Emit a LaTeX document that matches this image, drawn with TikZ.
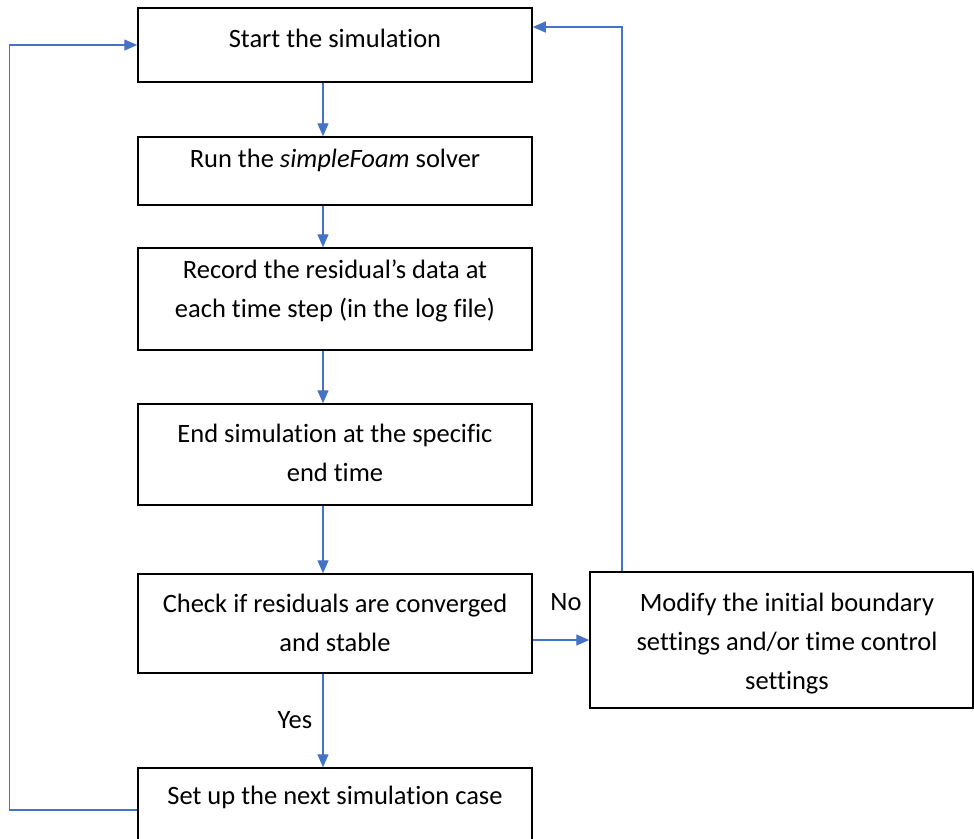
\documentclass[tikz,border=0pt]{standalone}
\usepackage{fontspec}
\setmainfont{Carlito}[RawFeature=-liga]
\usetikzlibrary{arrows.meta}
\definecolor{arrowblue}{HTML}{4472C4}
\begin{document}
\begin{tikzpicture}[x=1pt,y=-1pt,
  box/.style={draw=black, line width=1.5pt, rectangle, inner sep=0pt},
  txt/.style={align=center, font=\fontsize{26.5}{39}\selectfont, inner sep=0pt},
  flow/.style={draw=arrowblue, line width=1.4pt, -{Triangle[length=13pt,width=11pt]}}]
\useasboundingbox (0,0) rectangle (974,838);
\fill[white] (0,0) rectangle (974,838);
% boxes
\node[box, minimum width=394pt, minimum height=74pt]  (b1) at (335,45) {};
\node[box, minimum width=394pt, minimum height=68pt]  (b2) at (335,171) {};
\node[box, minimum width=394pt, minimum height=102pt] (b3) at (335,299) {};
\node[box, minimum width=394pt, minimum height=101pt] (b4) at (335,454.5) {};
\node[box, minimum width=394pt, minimum height=99pt]  (b5) at (335,623.5) {};
\node[box, minimum width=394pt, minimum height=84pt]  (b6) at (335,810) {};
\node[box, minimum width=383pt, minimum height=136pt] (b7) at (781.5,640) {};
% texts
\node[txt] (t1) at (335,38)  {Start the simulation};
\node[txt] (t2) at (335,160) {Run the \textit{simpleFoam} solver};
\node[txt] (t3) at (335,291) {Record the residual’s data at\\each time step (in the log file)};
\node[txt] (t4) at (335,453) {End simulation at the specific\\end time};
\node[txt] (t5) at (335,623) {Check if residuals are converged\\and stable};
\node[txt] (t6) at (335,797) {Set up the next simulation case};
\node[txt] (t7) at (787,644) {Modify the initial boundary\\settings and/or time control\\settings};
\node[txt] (no)  at (566,602) {No};
\node[txt] (yes) at (295,720) {Yes};
% connectors
\draw[flow] ([xshift=-12pt]b1.south) -- ([xshift=-12pt]b2.north);
\draw[flow] ([xshift=-12pt]b2.south) -- ([xshift=-12pt]b3.north);
\draw[flow] ([xshift=-12pt]b3.south) -- ([xshift=-12pt]b4.north);
\draw[flow] ([xshift=-12pt]b4.south) -- ([xshift=-12pt]b5.north);
\draw[flow] ([xshift=-12pt]b5.south) -- ([xshift=-12pt]b6.north);
\draw[flow] ([yshift=-16.5pt]b5.east) -- ([yshift=-16.5pt]b5.east -| b7.west);
\draw[flow] ([xshift=-159.5pt]b7.north) |- ([yshift=18pt]b1.east);
\draw[flow] (b6.west) -- ++(-128,0) |- (b1.west);
\end{tikzpicture}
\end{document}
